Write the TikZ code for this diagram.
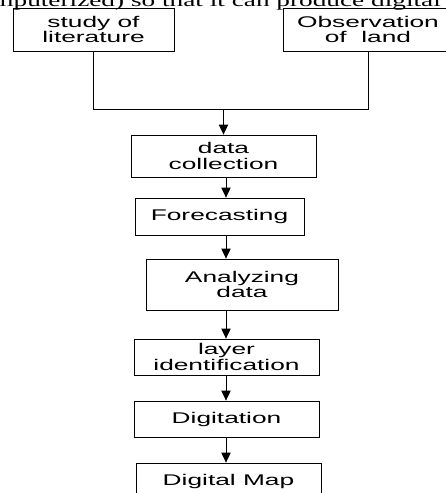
\documentclass[tikz,border=0pt]{standalone}
\usepackage{fontspec}
\setmainfont{Liberation Sans}[FakeStretch=1.7]
\newfontfamily\bodyserif{Liberation Serif}[FakeStretch=1.55]
\usetikzlibrary{arrows.meta}

\begin{document}
\begin{tikzpicture}[x=0.75pt, y=-0.75pt, line width=0.6pt,
  stagebox/.style={draw, rectangle, align=center, inner sep=0pt,
    font=\fontsize{11.6}{11.6}\selectfont},
  flow/.style={-{Triangle[length=7.5pt,width=7pt]}}]
\useasboundingbox (0,0) rectangle (446,493);
\clip (0,0) rectangle (446,493);
% line of text cut off above the chart
\node[anchor=base west, inner sep=0pt, font=\bodyserif\fontsize{13.2}{14}\selectfont] (cuttext) at (-8,6){mputerized) so that it can produce digital map};
% sources
\node[stagebox, minimum width=120.75pt, minimum height=32.25pt] (lit) at (93.5,29.5){study of\\literature};
\node[stagebox, minimum width=127.5pt, minimum height=32.25pt] (obs) at (368,29.5){Observation\\of\ \ land};
% steps
\node[stagebox, minimum width=138.75pt, minimum height=31.5pt] (dc) at (223.5,156){data\\collection};
\node[stagebox, minimum width=126.75pt, minimum height=27.75pt] (fc) at (219.5,216.5){Forecasting};
\node[stagebox, minimum width=144pt, minimum height=38.25pt] (an) at (242,284.5){Analyzing\\data};
\node[stagebox, minimum width=138.75pt, minimum height=27pt] (li) at (226.5,357){layer\\identification};
\node[stagebox, minimum width=138.75pt, minimum height=27pt] (dg) at (226.5,419){Digitation};
\node[stagebox, minimum width=138.75pt, minimum height=27pt] (dm) at (228.5,481){Digital Map};
\coordinate (join) at (223.5,109.5);
\coordinate (spine) at (226,0);
% connectors
\draw (lit.south) -- (lit.south |- join) -- (obs.south |- join) -- (obs.south);
\draw[flow] (join) -- (dc.north);
\draw[flow] (dc.south -| spine) -- (fc.north -| spine);
\draw[flow] (fc.south -| spine) -- (an.north -| spine);
\draw[flow] (an.south -| spine) -- (li.north -| spine);
\draw[flow] (li.south -| spine) -- (dg.north -| spine);
\draw[flow] (dg.south -| spine) -- (dm.north -| spine);
\end{tikzpicture}
\end{document}
